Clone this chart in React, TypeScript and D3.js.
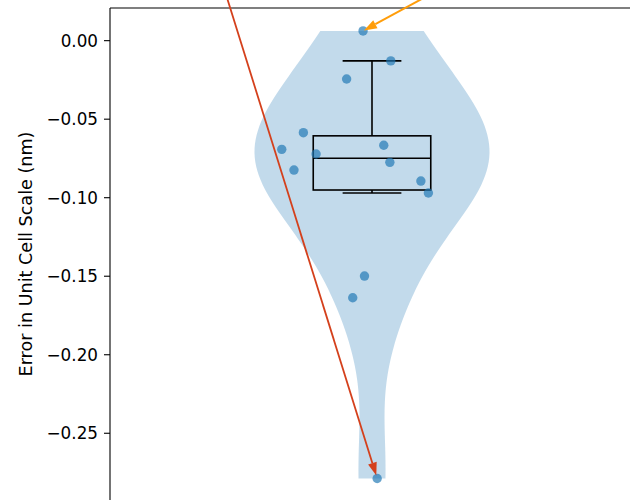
import React from "react";
import * as d3 from "d3";

// Data
const errors = [0.0062, -0.0129, -0.0244, -0.0586, -0.0692, -0.0824, -0.0722, -0.0666, -0.0775, -0.0894, -0.0970, -0.1499, -0.1637, -0.2788];
const jitterX = [0.981, 1.040, 0.946, 0.854, 0.808, 0.834, 0.881, 1.025, 1.038, 1.104, 1.120, 0.984, 0.959, 1.011];
const yTicks = [0.0, -0.05, -0.1, -0.15, -0.2, -0.25];
const yLabel = "Error in Unit Cell Scale (nm)";

const W = 630, H = 500;
const left = 110, top = 8, right = 634, bottom = 500;
const FONT = "DejaVu Sans";

export default function App() {
  const x = d3.scaleLinear().domain([0.4426, 1.5574]).range([left, right]);
  const y = d3.scaleLinear().domain([0.0208, -0.2925]).range([top, bottom]);

  // KDE (Scott) like matplotlib violinplot
  const n = errors.length;
  const sd = d3.deviation(errors) as number;
  const bw = sd * Math.pow(n, -1 / 5);
  const mn = d3.min(errors) as number, mx = d3.max(errors) as number;
  const grid = d3.range(100).map((i) => mn + (mx - mn) * i / 99);
  const dens = grid.map((g) => d3.sum(errors, (v) => Math.exp(-0.5 * ((g - v) / bw) ** 2)));
  const dmax = d3.max(dens) as number;
  const vData = grid.map((g, i) => ({ v: g, w: (dens[i] / dmax) * 0.25 }));
  const area = d3.area<{ v: number; w: number }>()
    .y((d) => y(d.v))
    .x0((d) => x(1 - d.w))
    .x1((d) => x(1 + d.w));

  // Box stats
  const sorted = [...errors].sort(d3.ascending);
  const q1 = d3.quantileSorted(sorted, 0.25) as number;
  const med = d3.quantileSorted(sorted, 0.5) as number;
  const q3 = d3.quantileSorted(sorted, 0.75) as number;
  const iqr = q3 - q1;
  const whiHi = d3.max(sorted.filter((v) => v <= q3 + 1.5 * iqr)) as number;
  const whiLo = d3.min(sorted.filter((v) => v >= q1 - 1.5 * iqr)) as number;
  const bx0 = x(1 - 0.125), bx1 = x(1 + 0.125);
  const cx0 = x(1 - 0.0625), cx1 = x(1 + 0.0625);

  // Annotation arrows (to max and min points)
  const iMax = errors.indexOf(mx), iMin = errors.indexOf(mn);
  const arrow = (tx: number, ty: number, sx: number, sy: number, shrink: number, color: string, lw: number) => {
    const dx = tx - sx, dy = ty - sy;
    const L = Math.hypot(dx, dy);
    const ux = dx / L, uy = dy / L;
    const tipX = tx - ux * shrink, tipY = ty - uy * shrink;
    const hl = 13, hw = 4.5;
    const bxp = tipX - ux * hl, byp = tipY - uy * hl;
    const px = -uy, py = ux;
    return (
      <g>
        <line x1={sx} y1={sy} x2={bxp} y2={byp} stroke={color} strokeWidth={lw} />
        <polygon
          points={`${tipX},${tipY} ${bxp + px * hw},${byp + py * hw} ${bxp - px * hw},${byp - py * hw}`}
          fill={color}
        />
      </g>
    );
  };
  const maxX = x(jitterX[iMax]), maxY = y(mx);
  const minX = x(jitterX[iMin]), minY = y(mn);

  return (
    <svg width={W} height={H} style={{ position: "absolute", left: 0, top: 0 }} fontFamily={FONT}>
      <rect x={0} y={0} width={W} height={H} fill="#fff" />
      <path d={area(vData) as string} fill="#1f77b4" fillOpacity={0.27} stroke="none" />
      {/* box */}
      <g stroke="#000" strokeWidth={1.6} fill="none">
        <rect x={bx0} y={y(q3)} width={bx1 - bx0} height={y(q1) - y(q3)} />
        <line x1={bx0} x2={bx1} y1={y(med)} y2={y(med)} />
        <line x1={x(1)} x2={x(1)} y1={y(q3)} y2={y(whiHi)} />
        <line x1={x(1)} x2={x(1)} y1={y(q1)} y2={y(whiLo)} />
        <line x1={cx0} x2={cx1} y1={y(whiHi)} y2={y(whiHi)} />
        <line x1={cx0} x2={cx1} y1={y(whiLo)} y2={y(whiLo)} />
      </g>
      {/* points */}
      {errors.map((v, i) => (
        <circle key={i} cx={x(jitterX[i])} cy={y(v)} r={4.7} fill="#1f77b4" fillOpacity={0.68} />
      ))}
      {/* spines */}
      <line x1={left} x2={left} y1={top} y2={bottom} stroke="#000" strokeWidth={1.1} />
      <line x1={left} x2={right} y1={top} y2={top} stroke="#000" strokeWidth={1.1} />
      <line x1={right} x2={right} y1={top} y2={bottom} stroke="#000" strokeWidth={1.1} />
      {/* y ticks */}
      {yTicks.map((t) => (
        <g key={t} transform={`translate(0,${y(t)})`}>
          <line x1={left - 6} x2={left} stroke="#000" strokeWidth={1.1} />
          <text x={left - 12} dy="0.36em" textAnchor="end" fontSize={16.8} fill="#000">
            {d3.format(".2f")(t).replace("-", "\u2212")}
          </text>
        </g>
      ))}
      <text transform={`translate(32,${(top + bottom) / 2}) rotate(-90)`} textAnchor="middle" fontSize={17.6} fill="#000">
        {yLabel}
      </text>
      {/* annotations */}
      {arrow(maxX, maxY, maxX + 112, maxY - 61, 1, "#ff9d0a", 2)}
      {arrow(minX, minY, minX - 159, minY - 509, 3, "#d4401c", 1.8)}
    </svg>
  );
}
